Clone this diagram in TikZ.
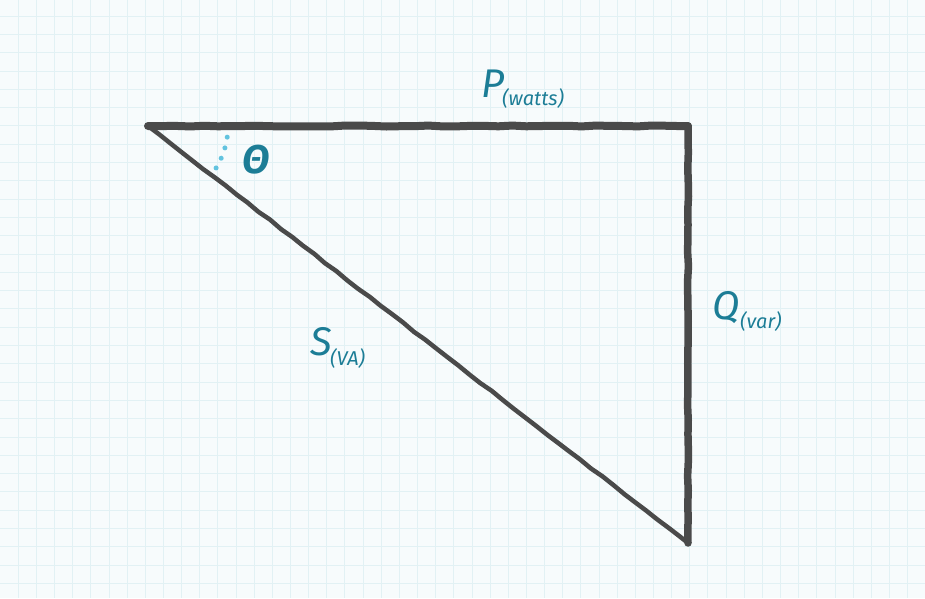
\documentclass[tikz,border=0pt]{standalone}
\usepackage{fontspec}
\setsansfont{Fira Sans}
\usetikzlibrary{decorations.pathmorphing}
\definecolor{paper}{HTML}{F7FBFC}
\definecolor{gridline}{HTML}{E2F1F4}
\definecolor{ink}{HTML}{4A4A4A}
\definecolor{labelblue}{HTML}{1C7D96}
\definecolor{anglecol}{HTML}{62C3DF}
\tikzstyle{side} = [draw=ink, line cap=round, line join=round, decorate, decoration={random steps, segment length=14pt, amplitude=0.5pt}]
\tikzstyle{qty} = [text=labelblue, font=\sffamily\itshape\fontsize{40}{40}\selectfont, inner sep=0pt]
\tikzstyle{unit} = [text=labelblue, font=\sffamily\itshape\fontsize{20}{20}\selectfont, inner sep=0pt, anchor=west]

\begin{document}
\begin{tikzpicture}[x=1pt, y=-1pt]

\fill[paper] (0,0) rectangle (925,598);
\useasboundingbox (0,0) rectangle (925,598);
\foreach \i in {1,...,50} \draw[gridline, line width=0.8pt] (18.15*\i,0) -- (18.15*\i,598);
\foreach \j in {0,...,32} \draw[gridline, line width=0.8pt] (0,16+18.3*\j) -- (925,16+18.3*\j);

\coordinate (A) at (148,126);
\coordinate (B) at (688,126);
\coordinate (C) at (688,543);

\draw[side, line width=8pt] (A) -- (B);
\draw[side, line width=7.5pt] (B) -- (C);
\draw[side, line width=4.5pt] (A) -- (C);

% angle mark
\draw[anglecol, line width=5pt, line cap=round, dash pattern=on 0pt off 11pt] (A) ++(8:80) arc[start angle=8, end angle=36, radius=80];

\node (theta) [qty, font=\sffamily\bfseries\itshape\fontsize{40}{40}\selectfont] at (256,160) {Θ};
\node (P) [qty] at (493,84) {P};
\node (Pu) [unit] at (502,98) {(watts)};
\node (Q) [qty] at (726,308) {Q};
\node (Qu) [unit] at (740,321) {(var)};
\node (S) [qty] at (321,342) {S};
\node (Su) [unit] at (330,358) {(VA)};

\end{tikzpicture}
\end{document}
